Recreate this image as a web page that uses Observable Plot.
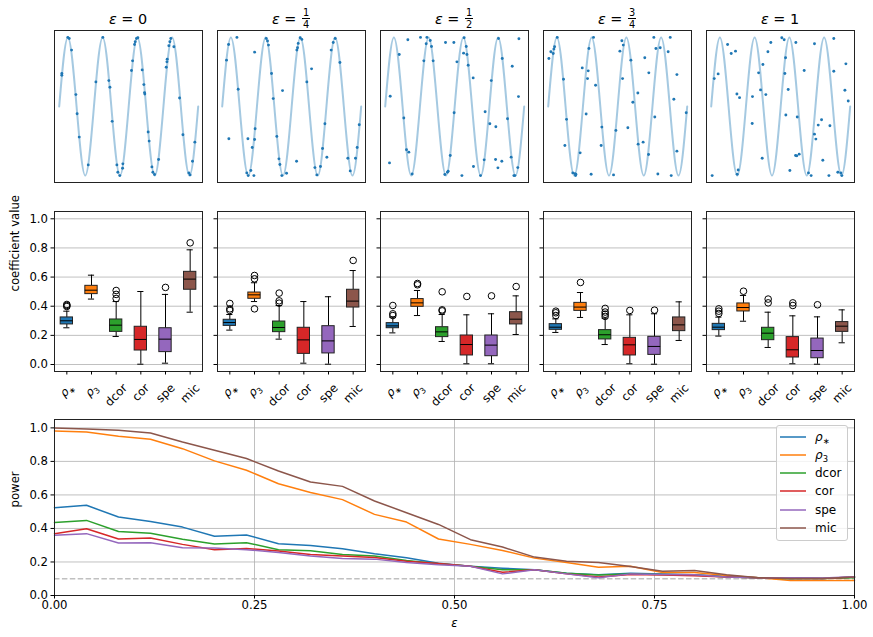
<!DOCTYPE html>
<html><head><meta charset="utf-8">
<script src="https://cdn.jsdelivr.net/npm/d3@7"></script>
<script src="https://cdn.jsdelivr.net/npm/@observablehq/plot@0.6"></script>
<style>
html,body{margin:0;padding:0;background:#fff;}
#root{position:relative;width:873px;height:637px;overflow:hidden;font-family:"DejaVu Sans",sans-serif;color:#000;}
.abs{position:absolute;}
.title{position:absolute;top:3.5px;width:148px;text-align:center;font-size:14.4px;line-height:30px;white-space:nowrap;}
.title i{font-style:italic;}
.frac{display:inline-block;vertical-align:-4px;text-align:center;font-size:9.8px;line-height:9px;margin-left:1px;}
.frac .num{display:block;border-bottom:1px solid #000;padding:0 1px 1px;}
.frac .den{display:block;padding-top:1px;}
.legend{position:absolute;left:776px;top:425px;width:72px;height:116px;box-sizing:border-box;background:rgba(255,255,255,0.8);border:1px solid #ccc;border-radius:3px;font-size:12px;}
.legend .row{position:absolute;left:0;height:14px;width:70px;}
.legend .row span{position:absolute;left:38px;top:0;line-height:14px;white-space:nowrap;}
.legend .row svg{position:absolute;left:0;top:0;}
</style></head><body><div id="root"></div>
<script>
// ---------------- data ----------------
const epsTitles = [["0"], ["1","4"], ["1","2"], ["3","4"], ["1"]];
const methods = ["ρ*", "ρ3", "dcor", "cor", "spe", "mic"];
const colors = ["#1f77b4", "#ff7f0e", "#2ca02c", "#d62728", "#9467bd", "#8c564b"];

// reference sine curve: zero crossings, peaks and troughs
const curveX = [0, 0.0625, 0.125, 0.1875, 0.25, 0.3125, 0.375, 0.4375, 0.5, 0.5625, 0.625, 0.6875, 0.75, 0.8125, 0.875, 0.9375, 1];
const curveY = [0, 1, 0, -1, 0, 1, 0, -1, 0, 1, 0, -1, 0, 1, 0, -1, 0];

// scatter samples per noise level [x, y]
const pts_eps0 = [[0.019,0.477],[0.019,0.453],[0.062,1.0],[0.072,0.985],[0.089,0.816],[0.120,0.172],[0.129,-0.104],[0.144,-0.443],[0.209,-0.845],[0.264,0.356],[0.314,1.0],[0.357,0.375],[0.365,0.278],[0.381,-0.215],[0.415,-0.845],[0.422,-0.952],[0.436,-1.0],[0.456,-0.893],[0.458,-0.830],[0.520,0.521],[0.528,0.661],[0.542,0.898],[0.547,0.937],[0.556,0.985],[0.566,0.995],[0.597,0.530],[0.609,0.317],[0.614,0.201],[0.616,0.182],[0.640,-0.370],[0.647,-0.501],[0.667,-0.874],[0.674,-0.952],[0.686,-0.985],[0.715,-0.767],[0.770,0.569],[0.775,0.646],[0.777,0.685],[0.789,0.879],[0.796,0.937],[0.803,0.985],[0.825,0.864],[0.866,0.123],[0.890,-0.409],[0.933,-0.961],[0.942,-0.990],[0.959,-0.792],[0.976,-0.516]];
const pts_eps1 = [[0.031,0.671],[0.046,0.898],[0.106,1.0],[0.115,0.249],[0.048,-0.467],[0.185,-0.467],[0.216,-0.593],[0.233,-0.477],[0.237,-0.322],[0.177,-0.961],[0.187,-1.0],[0.206,-0.927],[0.228,-1.0],[0.233,0.787],[0.317,0.985],[0.326,0.947],[0.333,0.889],[0.355,0.477],[0.367,0.114],[0.393,-0.433],[0.408,-0.758],[0.415,-0.840],[0.434,0.230],[0.429,-1.0],[0.463,-0.966],[0.535,-0.792],[0.537,0.816],[0.542,0.850],[0.547,0.913],[0.561,0.995],[0.573,0.971],[0.609,0.356],[0.643,0.545],[0.667,-0.884],[0.681,-0.990],[0.707,-0.869],[0.722,-0.608],[0.739,-0.249],[0.753,-0.734],[0.784,0.816],[0.799,0.927],[0.813,0.985],[0.847,0.637],[0.904,-0.748],[0.921,-0.932],[0.959,-0.748],[0.971,-0.593],[0.986,-0.264]];
const pts_eps2 = [[0.036,0.148],[0.031,-0.816],[0.101,0.753],[0.134,-0.167],[0.153,-0.627],[0.170,-0.661],[0.163,0.966],[0.194,-0.976],[0.254,1.0],[0.300,1.0],[0.295,0.908],[0.324,0.956],[0.333,0.869],[0.278,0.661],[0.345,0.661],[0.434,0.927],[0.494,0.927],[0.429,-0.985],[0.448,-0.952],[0.453,-0.937],[0.468,-0.709],[0.496,-0.090],[0.516,0.646],[0.552,-1.0],[0.564,0.772],[0.568,0.995],[0.583,0.869],[0.588,0.753],[0.597,0.598],[0.633,0.414],[0.635,-0.869],[0.686,-1.0],[0.712,-0.772],[0.719,-0.075],[0.753,-0.249],[0.763,0.375],[0.796,-0.293],[0.794,-0.767],[0.811,-0.888],[0.815,0.985],[0.839,-0.792],[0.842,0.695],[0.880,-0.177],[0.906,-0.733],[0.914,0.583],[0.926,-1.0],[0.933,-1.0],[0.954,-0.884],[0.959,0.143],[0.962,0.981]];
const pts_eps3 = [[0.005,0.695],[0.019,0.792],[0.036,0.768],[0.041,0.831],[0.046,0.864],[0.065,1.0],[0.110,0.395],[0.120,-0.564],[0.132,-0.186],[0.177,-0.961],[0.192,-0.971],[0.197,-1.0],[0.199,-0.981],[0.230,-0.671],[0.245,0.559],[0.273,-0.109],[0.283,0.404],[0.288,0.516],[0.293,0.840],[0.309,-0.981],[0.326,1.0],[0.341,0.308],[0.381,-0.564],[0.386,-0.298],[0.470,-0.990],[0.487,-0.346],[0.516,0.801],[0.530,0.952],[0.540,0.889],[0.535,0.404],[0.595,0.671],[0.609,0.061],[0.573,-0.308],[0.645,0.196],[0.647,-0.545],[0.683,-0.516],[0.695,0.705],[0.722,-0.695],[0.724,0.487],[0.760,1.0],[0.767,-0.153],[0.775,0.840],[0.789,-0.976],[0.806,0.850],[0.863,0.792],[0.878,1.0],[0.885,-1.0],[0.904,0.104],[0.926,-0.646],[0.926,0.462],[0.993,-0.090]];
const pts_eps4 = [[0.007,-1.0],[0.022,0.404],[0.050,0.472],[0.118,0.898],[0.144,0.768],[0.175,0.801],[0.185,0.182],[0.204,0.128],[0.187,-0.981],[0.194,-0.918],[0.297,0.143],[0.295,-0.245],[0.341,0.487],[0.355,0.240],[0.367,-0.748],[0.372,0.608],[0.393,0.172],[0.408,0.792],[0.429,0.927],[0.508,0.995],[0.525,0.966],[0.530,0.477],[0.535,0.705],[0.537,-0.123],[0.554,0.245],[0.566,-0.927],[0.609,0.927],[0.619,-0.153],[0.607,-0.709],[0.616,-0.714],[0.633,-0.690],[0.669,0.521],[0.700,-0.961],[0.719,-1.0],[0.743,0.908],[0.743,-0.400],[0.753,-0.472],[0.770,-0.269],[0.794,-0.191],[0.803,-0.777],[0.847,-1.0],[0.854,-0.278],[0.882,0.985],[0.882,0.511],[0.911,-0.951],[0.933,-0.961],[0.940,-1.0],[0.962,0.235],[0.969,0.617],[0.986,0.080]];
const scatterSets = [pts_eps0, pts_eps1, pts_eps2, pts_eps3, pts_eps4];

// box plot statistics: rows = noise level, columns = methods
const boxLow = [[0.252,0.449,0.192,0.002,0.009,0.359],[0.236,0.432,0.174,0.009,0.002,0.261],[0.217,0.336,0.158,0.005,0.005,0.206],[0.220,0.323,0.137,0.005,0.002,0.165],[0.195,0.297,0.117,0.005,0.002,0.149]];
const boxQ1 = [[0.275,0.483,0.224,0.096,0.085,0.513],[0.265,0.451,0.222,0.073,0.076,0.391],[0.249,0.396,0.188,0.062,0.057,0.275],[0.238,0.368,0.172,0.062,0.066,0.229],[0.236,0.364,0.167,0.048,0.043,0.224]];
const boxMed = [[0.300,0.510,0.270,0.172,0.174,0.586],[0.288,0.478,0.254,0.169,0.162,0.435],[0.265,0.423,0.224,0.137,0.133,0.311],[0.256,0.394,0.204,0.135,0.124,0.272],[0.256,0.391,0.215,0.101,0.096,0.263]];
const boxQ3 = [[0.323,0.540,0.309,0.259,0.249,0.636],[0.307,0.494,0.295,0.252,0.263,0.513],[0.284,0.449,0.256,0.199,0.199,0.359],[0.277,0.423,0.236,0.183,0.190,0.323],[0.279,0.419,0.252,0.188,0.178,0.291]];
const boxHigh = [[0.366,0.613,0.432,0.501,0.481,0.787],[0.343,0.561,0.405,0.432,0.465,0.645],[0.325,0.508,0.343,0.341,0.348,0.471],[0.313,0.494,0.318,0.341,0.348,0.430],[0.325,0.474,0.359,0.334,0.327,0.375]];
const boxOutliers = [
  [[0.398,0.405,0.412],[],[0.453,0.481,0.508],[],[0.529],[0.835]],
  [[0.371,0.382,0.419],[0.382,0.588,0.611],[0.421,0.437,0.490],[],[],[0.714]],
  [[0.336,0.348,0.405],[0.547,0.556],[0.368,0.375,0.499],[0.467],[0.471],[0.535]],
  [[0.336,0.355,0.366],[0.563],[0.330,0.345,0.360,0.385],[0.371],[0.373],[]],
  [[0.350,0.366,0.382],[0.503],[0.423,0.449],[0.405,0.423],[0.410],[]]
];
const coefTicks = [0, 0.2, 0.4, 0.6, 0.8, 1.0];

// power curves
const epsGrid = [0,0.04,0.08,0.12,0.16,0.20,0.24,0.28,0.32,0.36,0.40,0.44,0.48,0.52,0.56,0.60,0.64,0.68,0.72,0.76,0.80,0.84,0.88,0.92,0.96,1.00];
const power_rhoStar = [0.524,0.538,0.468,0.442,0.408,0.353,0.361,0.309,0.299,0.279,0.249,0.225,0.193,0.175,0.163,0.153,0.133,0.124,0.133,0.129,0.124,0.114,0.106,0.106,0.102,0.110];
const power_rho3 = [0.982,0.976,0.950,0.932,0.876,0.803,0.747,0.667,0.614,0.572,0.484,0.438,0.337,0.305,0.269,0.223,0.197,0.169,0.175,0.137,0.137,0.120,0.106,0.090,0.090,0.090];
const power_dcor = [0.436,0.448,0.382,0.371,0.335,0.307,0.315,0.273,0.267,0.245,0.235,0.209,0.189,0.175,0.153,0.153,0.133,0.122,0.129,0.125,0.122,0.110,0.106,0.100,0.102,0.106];
const power_cor = [0.369,0.398,0.337,0.343,0.305,0.273,0.281,0.265,0.245,0.235,0.227,0.205,0.191,0.175,0.139,0.153,0.129,0.110,0.125,0.122,0.118,0.110,0.106,0.102,0.102,0.110];
const power_spe = [0.359,0.369,0.313,0.315,0.285,0.283,0.273,0.257,0.235,0.221,0.217,0.197,0.183,0.175,0.129,0.153,0.129,0.106,0.129,0.125,0.124,0.110,0.106,0.106,0.104,0.112];
const power_mic = [1.000,0.993,0.986,0.970,0.916,0.867,0.817,0.743,0.677,0.651,0.564,0.494,0.424,0.333,0.289,0.229,0.205,0.197,0.173,0.145,0.149,0.124,0.106,0.102,0.102,0.110];
const powerTicksX = [0, 0.25, 0.5, 0.75, 1.0];
const powerTicksY = [0, 0.2, 0.4, 0.6, 0.8, 1.0];
const nullLevel = 0.1;

// ---------------- layout ----------------
const FS = 11.7;
const root = document.getElementById("root");
const panelLeft = [54, 217, 380, 543, 706];
const panelW = 148;
const baseStyle = {fontFamily: "DejaVu Sans", fontSize: FS + "px", color: "#000", background: "transparent", overflow: "visible"};
function place(el, left, top) { el.style.position = "absolute"; el.style.left = left + "px"; el.style.top = top + "px"; root.appendChild(el); }

function fixRho(svg) {
  d3.select(svg).selectAll("text").each(function () {
    const t = this.textContent;
    if (t === "ρ*" || t === "ρ3") {
      const s = d3.select(this); s.text(null);
      s.append("tspan").attr("font-style", "italic").text("ρ");
      s.append("tspan").attr("font-size", (FS * 0.7) + "px").attr("dy", "3").text(t === "ρ*" ? "∗" : "3");
    }
  });
}

// titles
epsTitles.forEach((t, i) => {
  const d = document.createElement("div");
  d.className = "title";
  d.style.left = panelLeft[i] + "px";
  if (t.length === 1) d.innerHTML = `<i>ε</i> = ${t[0]}`;
  else d.innerHTML = `<i>ε</i> = <span class="frac"><span class="num">${t[0]}</span><span class="den">${t[1]}</span></span>`;
  root.appendChild(d);
});

// top row: samples
const curve = curveX.map((x, k) => ({x, y: curveY[k]}));
scatterSets.forEach((pts, i) => {
  const p = Plot.plot({
    width: panelW + 2, height: 154, margin: 1,
    style: baseStyle,
    x: {domain: [-0.0338, 1.031], axis: null},
    y: {domain: [-1.1, 1.1], axis: null},
    marks: [
      Plot.line(curve, {x: "x", y: "y", curve: "natural", stroke: "#1f77b4", strokeOpacity: 0.4, strokeWidth: 2}),
      Plot.dot(pts, {x: d => d[0], y: d => d[1], r: 1.45, fill: "#1f77b4"}),
      Plot.frame({stroke: "#222", strokeWidth: 1})
    ]
  });
  place(p, panelLeft[i] - 1, 29);
});

// middle row: coefficient box plots
const ctx = document.createElement("canvas").getContext("2d");
ctx.font = FS + "px 'DejaVu Sans'";
function labelLen(m) {
  if (m[0] === "ρ") return ctx.measureText("ρ").width + 0.7 * ctx.measureText(m[1]).width;
  return ctx.measureText(m).width;
}
for (let i = 0; i < 5; i++) {
  const first = i === 0;
  const ml = first ? 54 : 6;
  const rows = methods.map((m, k) => ({
    m, pos: k + 1, color: colors[k],
    lo: boxLow[i][k], q1: boxQ1[i][k], med: boxMed[i][k], q3: boxQ3[i][k], hi: boxHigh[i][k]
  }));
  const outs = [];
  boxOutliers[i].forEach((arr, k) => arr.forEach(v => outs.push({pos: k + 1, v})));
  const marks = [
    Plot.ruleY(coefTicks, {stroke: "#b0b0b0", strokeWidth: 0.8}),
    Plot.ruleX(rows, {x: "pos", y1: "lo", y2: "q1", stroke: "#000", strokeWidth: 1}),
    Plot.ruleX(rows, {x: "pos", y1: "q3", y2: "hi", stroke: "#000", strokeWidth: 1}),
    Plot.ruleY(rows, {x1: d => d.pos - 0.125, x2: d => d.pos + 0.125, y: "lo", stroke: "#000", strokeWidth: 1}),
    Plot.ruleY(rows, {x1: d => d.pos - 0.125, x2: d => d.pos + 0.125, y: "hi", stroke: "#000", strokeWidth: 1}),
    Plot.rect(rows, {x1: d => d.pos - 0.25, x2: d => d.pos + 0.25, y1: "q1", y2: "q3", fill: "color", stroke: "#222", strokeWidth: 1}),
    Plot.ruleY(rows, {x1: d => d.pos - 0.25, x2: d => d.pos + 0.25, y: "med", stroke: "#000", strokeWidth: 1}),
    Plot.dot(outs, {x: "pos", y: "v", r: 3.3, stroke: "#000", fill: "none", strokeWidth: 1}),
    Plot.frame({stroke: "#222", strokeWidth: 1}),
    Plot.axisY({ticks: coefTicks, tickSize: 3.5, tickPadding: 3, tickFormat: first ? d3.format(".1f") : () => "", label: null, fontSize: FS}),
    Plot.axisX({ticks: [1, 2, 3, 4, 5, 6], tickSize: 3.5, tickFormat: () => "", label: null})
  ];
  methods.forEach((m, k) => {
    marks.push(Plot.text([m], {x: [k + 1], frameAnchor: "bottom", rotate: -45, textAnchor: "middle", lineAnchor: "middle", dy: 14.5 + 0.354 * labelLen(m), fontSize: FS}));
  });
  if (first) marks.push(Plot.text(["coefficient value"], {frameAnchor: "left", rotate: -90, dx: -39, fontSize: FS}));
  const p = Plot.plot({
    width: ml + panelW + 1, height: 201,
    marginLeft: ml, marginRight: 1, marginTop: 1, marginBottom: 40,
    style: baseStyle,
    x: {type: "linear", domain: [0.5, 6.5], axis: null},
    y: {domain: [-0.048, 1.05], axis: null},
    marks
  });
  fixRho(p);
  place(p, panelLeft[i] - ml, 210);
}

// bottom: power curves
const powerSeries = [power_rhoStar, power_rho3, power_dcor, power_cor, power_spe, power_mic];
const powerRows = [];
powerSeries.forEach((arr, k) => arr.forEach((v, j) => powerRows.push({method: methods[k], eps: epsGrid[j], power: v})));
const bottom = Plot.plot({
  width: 873, height: 227,
  marginLeft: 54, marginRight: 19, marginTop: 9, marginBottom: 42,
  style: baseStyle,
  x: {domain: [0, 1], axis: null},
  y: {domain: [0, 1.05], axis: null},
  color: {domain: methods, range: colors},
  marks: [
    Plot.ruleX(powerTicksX, {stroke: "#b0b0b0", strokeWidth: 0.8}),
    Plot.ruleY(powerTicksY, {stroke: "#b0b0b0", strokeWidth: 0.8}),
    Plot.ruleY([nullLevel], {stroke: "#c0c0c0", strokeWidth: 1.5, strokeDasharray: "5.5,2.4"}),
    Plot.line(powerRows, {x: "eps", y: "power", z: "method", stroke: "method", strokeWidth: 1.5}),
    Plot.frame({stroke: "#222", strokeWidth: 1}),
    Plot.axisX({ticks: powerTicksX, tickSize: 3.5, tickPadding: 2, tickFormat: d3.format(".2f"), label: null, fontSize: FS}),
    Plot.axisY({ticks: powerTicksY, tickSize: 3.5, tickPadding: 3, tickFormat: d3.format(".1f"), label: null, fontSize: FS}),
    Plot.text(["ε"], {frameAnchor: "bottom", dy: 31, fontStyle: "italic", fontSize: FS}),
    Plot.text(["power"], {frameAnchor: "left", rotate: -90, dx: -39, fontSize: FS})
  ]
});
place(bottom, 0, 410);

// legend
const leg = document.createElement("div");
leg.className = "legend";
methods.forEach((m, k) => {
  const row = document.createElement("div");
  row.className = "row";
  row.style.top = (3.7 + 18.2 * k) + "px";
  const lab = m[0] === "ρ" ? `<i>ρ</i><sub style="font-size:8.4px;vertical-align:-3px">${m[1] === "*" ? "∗" : "3"}</sub>` : m;
  row.innerHTML = `<svg width="34" height="14"><line x1="3" x2="29" y1="7" y2="7" stroke="${colors[k]}" stroke-width="1.5"/></svg><span>${lab}</span>`;
  leg.appendChild(row);
});
root.appendChild(leg);
</script></body></html>
